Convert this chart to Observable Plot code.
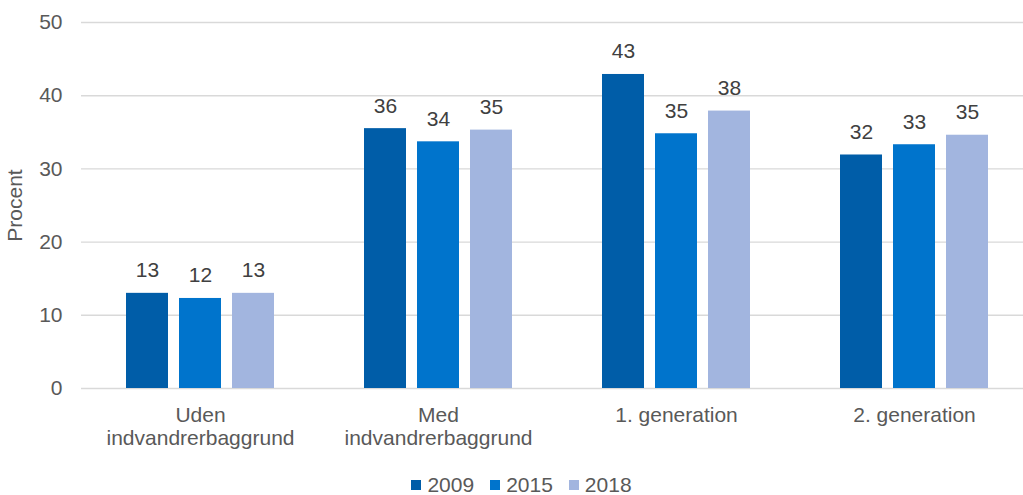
<!DOCTYPE html>
<html>
<head>
<meta charset="utf-8">
<script src="https://cdn.jsdelivr.net/npm/d3@7"></script>
<script src="https://cdn.jsdelivr.net/npm/@observablehq/plot@0.6"></script>
<style>
  body { margin: 0; background: #fff; font-family: "Liberation Sans", Arial, sans-serif; }
  #legend { display: flex; justify-content: center; align-items: center; height: 35px; margin-top: 7px; padding-left: 20px; font-size: 21px; color: #595959; }
  .item { display: flex; align-items: center; margin: 0 8px; }
  .sw { width: 10px; height: 10px; margin-right: 6px; }
</style>
</head>
<body>
<div id="chart"></div>
<div id="legend"></div>
<script>
const groups = ["Uden indvandrerbaggrund", "Med indvandrerbaggrund", "1. generation", "2. generation"];
const groupLabels = ["Uden\nindvandrerbaggrund", "Med\nindvandrerbaggrund", "1. generation", "2. generation"];
const years = ["2009", "2015", "2018"];
const v2009 = [13.0, 35.5, 42.9, 31.9];
const v2015 = [12.3, 33.7, 34.8, 33.3];
const v2018 = [13.0, 35.3, 37.9, 34.6];
const colors = ["#005DA8", "#0074CC", "#A2B5DF"];
const yTicks = [0, 10, 20, 30, 40, 50];

const series = [v2009, v2015, v2018];
const data = [];
groups.forEach((g, i) => years.forEach((y, j) => data.push({group: g, year: y, value: series[j][i]})));

const chart = Plot.plot({
  width: 1023,
  height: 460,
  marginLeft: 81,
  marginRight: -10,
  marginTop: 22,
  marginBottom: 72,
  style: {fontFamily: "'Liberation Sans', Arial, sans-serif", fontSize: "21px", color: "#595959", background: "#fff"},
  fx: {domain: groups, padding: 0, label: null},
  x: {domain: years, paddingInner: 0.21, paddingOuter: 0.85, axis: null},
  y: {domain: [0, 50], label: "Procent"},
  color: {domain: years, range: colors},
  marks: [
    Plot.gridY(yTicks, {stroke: "#d9d9d9", strokeOpacity: 1, strokeWidth: 1.4}),
    Plot.axisY(yTicks, {tickSize: 0, tickPadding: 19, label: "Procent", labelAnchor: "center", labelArrow: "none", labelOffset: 74, fill: "#595959", fontSize: 21}),
    Plot.axisFx({anchor: "bottom", tickSize: 0, tickPadding: 17, label: null, lineHeight: 1.1, fontSize: 21,
                 tickFormat: d => groupLabels[groups.indexOf(d)], fill: "#595959"}),
    Plot.barY(data, {fx: "group", x: "year", y: "value", fill: "year"}),
    Plot.text(data, {fx: "group", x: "year", y: "value", text: d => String(Math.round(d.value)),
                     lineAnchor: "bottom", dy: -16, fill: "#404040", fontSize: 21})
  ]
});
document.getElementById("chart").appendChild(chart);

const legend = document.getElementById("legend");
years.forEach((y, i) => {
  const item = document.createElement("div");
  item.className = "item";
  item.innerHTML = `<span class="sw" style="background:${colors[i]}"></span><span>${y}</span>`;
  legend.appendChild(item);
});
</script>
</body>
</html>
